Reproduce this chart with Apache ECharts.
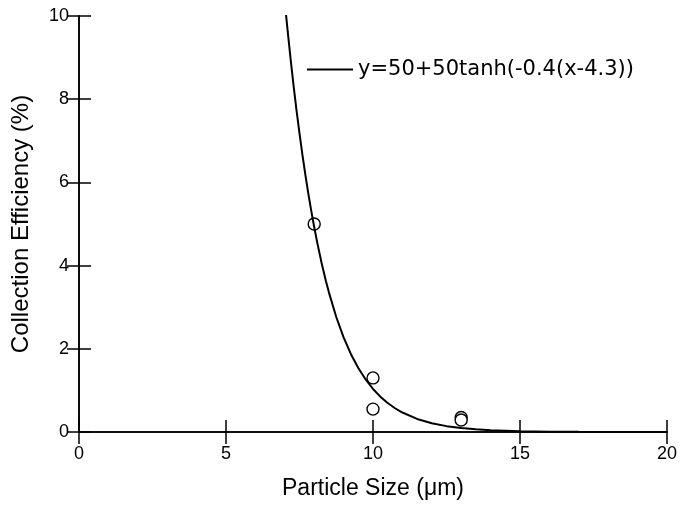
<!DOCTYPE html>
<html>
<head>
<meta charset="utf-8">
<script src="https://cdn.jsdelivr.net/npm/echarts@6/dist/echarts.min.js"></script>
<style>html,body{margin:0;padding:0;background:#fff}#c{width:680px;height:505px}</style>
</head>
<body>
<div id="c"></div>
<script>
// Measured data points: particle size (µm), collection efficiency (%)
const pointX = [8, 10, 10, 13, 13];
const pointY = [5.0, 1.3, 0.55, 0.35, 0.29];
// Fitted curve y=50+50tanh(-0.4(x-4.3)) sampled values
const curveX = [7.0, 7.05, 7.1, 7.2, 7.3, 7.4, 7.5, 7.6, 7.7, 7.8, 7.9, 8.0, 8.1, 8.25, 8.4, 8.5, 8.75, 9.0, 9.25, 9.5, 9.75, 10.0, 10.25, 10.5, 10.75, 11.0, 11.5, 12.0, 12.5, 13.0, 13.5, 14.0, 15.0, 16.0, 17.0, 18.0, 20.0];
const curveY = [10.34, 9.975, 9.622, 8.948, 8.317, 7.727, 7.176, 6.661, 6.180, 5.732, 5.315, 4.927, 4.565, 4.070, 3.626, 3.357, 2.765, 2.275, 1.871, 1.537, 1.262, 1.035, 0.849, 0.696, 0.571, 0.468, 0.314, 0.211, 0.141, 0.0948, 0.0636, 0.0426, 0.0192, 0.0086, 0.0039, 0.0017, 0.0004];
const xTicks = [0, 5, 10, 15, 20];
const yTicks = [0, 2, 4, 6, 8, 10];
const curveName = 'y=50+50tanh(-0.4(x-4.3))';
const xTitle = 'Particle Size (μm)';
const yTitle = 'Collection Efficiency (%)';

const font = 'Liberation Sans, Arial, Helvetica, sans-serif';
const chart = echarts.init(document.getElementById('c'));
const axisLine = {show: true, lineStyle: {color: '#000', width: 1.6}};
const tick = {show: true, inside: true, length: 12, lineStyle: {color: '#000', width: 1.5}};
chart.setOption({
  animation: false,
  grid: {left: 79, top: 16, right: 8, bottom: 69},
  legend: {
    left: 307, top: 59, itemWidth: 46, itemHeight: 2, itemGap: 0, padding: 0,
    data: [{name: curveName, icon: 'rect'}],
    textStyle: {fontFamily: 'DejaVu Sans, sans-serif', fontSize: 21, color: '#000'}
  },
  xAxis: [{
    type: 'value', min: xTicks[0], max: xTicks[xTicks.length - 1], interval: 5,
    axisLine, axisTick: tick, splitLine: {show: false},
    axisLabel: {fontFamily: font, fontSize: 18, color: '#000', margin: 13},
    name: xTitle, nameLocation: 'middle', nameGap: 45,
    nameTextStyle: {fontFamily: font, fontSize: 23, color: '#000'}
  }, {
    type: 'value', position: 'top', min: xTicks[0], max: xTicks[xTicks.length - 1], interval: 5,
    axisLine, axisTick: tick, axisLabel: {show: false}, splitLine: {show: false}
  }],
  yAxis: [{
    type: 'value', min: yTicks[0], max: yTicks[yTicks.length - 1], interval: 2,
    axisLine, axisTick: tick, splitLine: {show: false},
    axisLabel: {fontFamily: font, fontSize: 18, color: '#000', margin: 10},
    name: yTitle, nameLocation: 'middle', nameGap: 46,
    nameTextStyle: {fontFamily: font, fontSize: 24, color: '#000'}
  }, {
    type: 'value', position: 'right', min: yTicks[0], max: yTicks[yTicks.length - 1], interval: 2,
    axisLine, axisTick: tick, axisLabel: {show: false}, splitLine: {show: false}
  }],
  series: [{
    name: curveName, type: 'line', showSymbol: false, symbol: 'none',
    data: curveX.map((x, i) => [x, curveY[i]]),
    lineStyle: {color: '#000', width: 2}, itemStyle: {color: '#000'}, clip: true
  }, {
    name: 'data', type: 'scatter', symbol: 'circle', symbolSize: 12,
    data: pointX.map((x, i) => [x, pointY[i]]),
    itemStyle: {color: '#fff', borderColor: '#000', borderWidth: 1.4, opacity: 1}
  }]
});
</script>
</body>
</html>
